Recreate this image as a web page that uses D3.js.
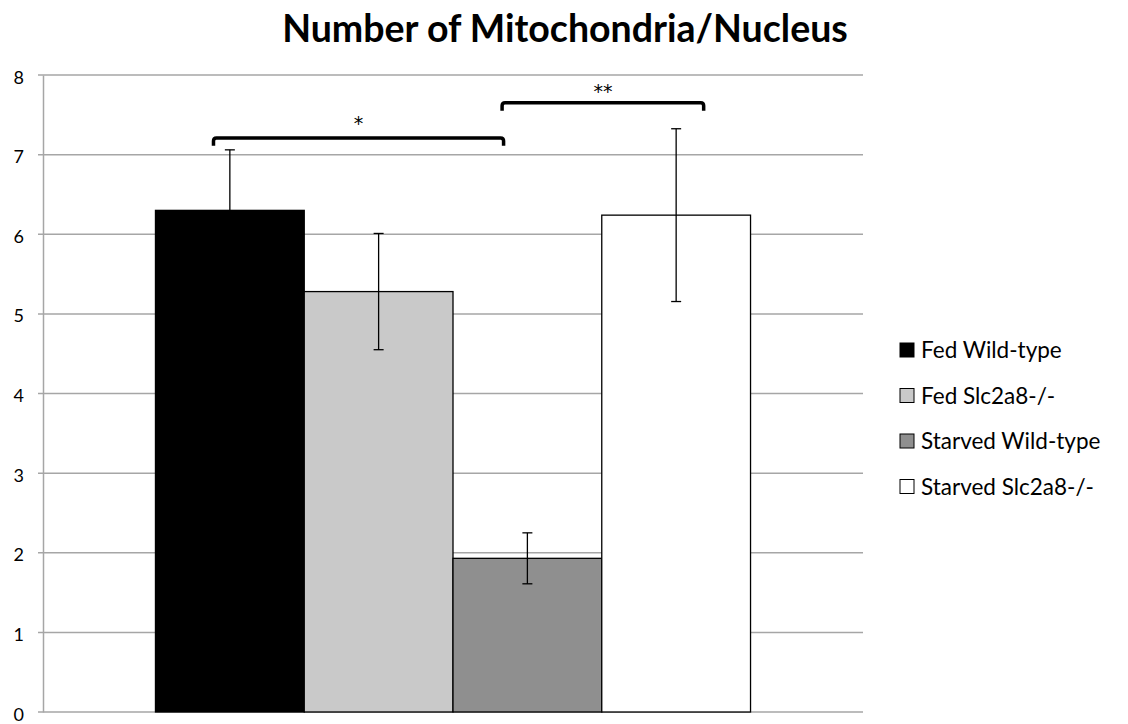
<!DOCTYPE html>
<html><head><meta charset="utf-8">
<script src="https://cdn.jsdelivr.net/npm/d3@7"></script>
<style>body{margin:0;background:#fff}svg{display:block}</style>
</head><body>
<svg id="c" width="1128" height="724"></svg>
<script>
const title = "Number of Mitochondria/Nucleus";
const series = ["Fed Wild-type", "Fed Slc2a8-/-", "Starved Wild-type", "Starved Slc2a8-/-"];
const values = [6.30, 5.28, 1.93, 6.24];
const errors = [0.76, 0.73, 0.32, 1.085];
const colors = ["#000000", "#c9c9c9", "#8f8f8f", "#ffffff"];
const yTicks = [0, 1, 2, 3, 4, 5, 6, 7, 8];
// significance brackets: from/to series, offset within bar, bracket y, label y
const brackets = [
  {from: 0, fo: 0.39, to: 2, tof: 0.34, y: 7.21, ly: 7.45, label: "*"},
  {from: 2, fo: 0.33, to: 3, tof: 0.685, y: 7.65, ly: 7.85, label: "**"}
];

const svg = d3.select("#c");
const m = {left: 43, right: 265, top: 75, bottom: 12};
const W = 1128, H = 724;
const x0 = d3.scaleBand().domain(["g"]).range([m.left, W - m.right]).paddingInner(0).paddingOuter(0.189);
const x1 = d3.scaleBand().domain(series).range([x0("g"), x0("g") + x0.bandwidth()]);
const y = d3.scaleLinear().domain([0, 8]).range([H - m.bottom, m.top]);

// gridlines
svg.append("g").selectAll("line").data(yTicks).join("line")
  .attr("x1", m.left - 5).attr("x2", W - m.right)
  .attr("y1", d => y(d)).attr("y2", d => y(d))
  .attr("stroke", "#a6a6a6").attr("stroke-width", 1.5);

// y axis
const ya = svg.append("g").attr("transform", `translate(${m.left},0)`)
  .call(d3.axisLeft(y).tickValues(yTicks).tickSize(0).tickPadding(19));
ya.select(".domain").attr("stroke", "#a6a6a6").attr("stroke-width", 1.5);
ya.selectAll("text").attr("font-family", "Lato, sans-serif").attr("font-size", 18)
  .attr("fill", "#000").attr("dy", "0.45em");

// bars
svg.append("g").selectAll("rect").data(series).join("rect")
  .attr("x", d => x1(d)).attr("width", x1.bandwidth())
  .attr("y", (d, i) => y(values[i])).attr("height", (d, i) => y(0) - y(values[i]))
  .attr("fill", (d, i) => colors[i]).attr("stroke", "#000").attr("stroke-width", 1.3);

// error bars
const eg = svg.append("g").attr("stroke", "#000").attr("stroke-width", 1.3);
series.forEach((s, i) => {
  const cx = x1(s) + x1.bandwidth() / 2;
  const t = y(values[i] + errors[i]), b = y(values[i] - errors[i]);
  eg.append("line").attr("x1", cx).attr("x2", cx).attr("y1", t).attr("y2", b);
  eg.append("line").attr("x1", cx - 5).attr("x2", cx + 5).attr("y1", t).attr("y2", t);
  eg.append("line").attr("x1", cx - 5).attr("x2", cx + 5).attr("y1", b).attr("y2", b);
});

// brackets
brackets.forEach(bk => {
  const xa = x1(series[bk.from]) + bk.fo * x1.bandwidth();
  const xb = x1(series[bk.to]) + bk.tof * x1.bandwidth();
  const yt = y(bk.y), yb = y(bk.y - 0.1);
  svg.append("path")
    .attr("d", `M${xa},${yb} L${xa},${yt + 3} Q${xa},${yt} ${xa + 3},${yt} L${xb - 3},${yt} Q${xb},${yt} ${xb},${yt + 3} L${xb},${yb}`)
    .attr("fill", "none").attr("stroke", "#000").attr("stroke-width", 3.5);
  svg.append("text").attr("x", (xa + xb) / 2).attr("y", y(bk.ly) + 11)
    .attr("text-anchor", "middle").attr("font-family", "DejaVu Sans, sans-serif").attr("font-size", 19)
    .attr("fill", "#000").text(bk.label);
});

// title
svg.append("text").attr("x", 565).attr("y", 42).attr("text-anchor", "middle")
  .attr("font-family", "Lato, sans-serif").attr("font-weight", "bold").attr("font-size", 37.5)
  .attr("fill", "#000").text(title);

// legend
const lg = svg.append("g").attr("transform", "translate(900,350)");
series.forEach((s, i) => {
  const r = lg.append("g").attr("transform", `translate(0,${i * 45.5})`);
  r.append("rect").attr("x", 0).attr("y", -7).attr("width", 14).attr("height", 14)
    .attr("fill", colors[i]).attr("stroke", "#000").attr("stroke-width", 1);
  r.append("text").attr("x", 21).attr("y", 0).attr("dy", "0.36em")
    .attr("font-family", "Lato, sans-serif").attr("font-size", 22.5).attr("fill", "#000").text(s);
});
</script>
</body></html>
